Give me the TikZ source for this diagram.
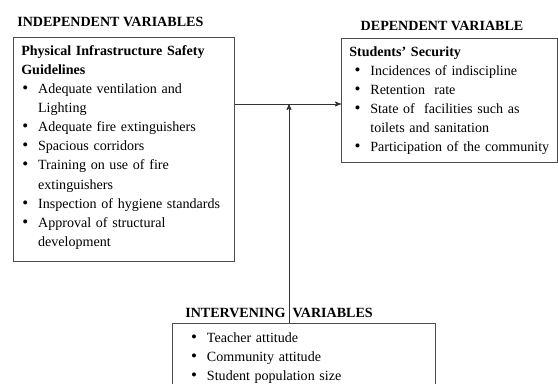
\documentclass[tikz,border=0pt]{standalone}
\usepackage{fontspec}
\setmainfont{Liberation Serif}
\usepackage{enumitem}
\setlist[itemize]{label={\fontsize{12}{12}\selectfont\textbullet},leftmargin=12pt,labelsep=7pt,itemsep=0pt,topsep=0pt,parsep=0pt,partopsep=0pt}
\usetikzlibrary{arrows,positioning}
\tikzset{>=stealth',
  varbox/.style={draw=black!70,line width=0.9pt,inner sep=0pt},
  boxtext/.style={anchor=north west,inner sep=0.2cm,font=\fontsize{10}{13.6}\selectfont},
  vartitle/.style={inner sep=0pt,font=\fontsize{10}{12}\selectfont\bfseries},
  link/.style={draw=black!80,line width=0.6pt}
}

\begin{document}
\begin{tikzpicture}
    \useasboundingbox (0,0) rectangle (13.95,9.575);
    \clip (0,0) rectangle (13.95,9.575);
    % the three boxes
    \node [varbox,anchor=north west,minimum width=5.525cm,minimum height=5.6cm] (indep) at (0.325,8.65) {};
    \node [varbox,anchor=north west,minimum width=5.4cm,minimum height=3.1cm] (dep) at (8.525,8.625) {};
    \node [varbox,anchor=north west,minimum width=6.575cm,minimum height=2.5cm] (interv) at (4.3,1.5) {};
    % texts in the boxes
    \node [boxtext,text width=5.1cm] (indeptext) at (indep.north west) {\noindent\textbf{Physical Infrastructure Safety\newline Guidelines}
      \begin{itemize}
        \item Adequate ventilation and\newline Lighting
        \item Adequate fire extinguishers
        \item Spacious corridors
        \item Training on use of fire\newline extinguishers
        \item Inspection of hygiene standards
        \item Approval of structural\newline development
      \end{itemize}};
    \node [boxtext,text width=5cm] (deptext) at (dep.north west) {\noindent\textbf{Students' Security}
      \begin{itemize}[leftmargin=15pt]
        \item Incidences of indiscipline
        \item Retention\ \ rate
        \item State of\ \ facilities such as\newline toilets and sanitation
        \item Participation of the community
      \end{itemize}};
    \node [boxtext,text width=6.1cm,yshift=0.2cm] (intervtext) at (interv.north west) {%
      \begin{itemize}[leftmargin=19pt]
        \item Teacher attitude
        \item Community attitude
        \item Student population size
      \end{itemize}};
    % titles
    \node [vartitle,anchor=base west] (indeptitle) at ([xshift=0.1cm,yshift=0.26cm]indep.north west) {INDEPENDENT VARIABLES};
    \node [vartitle,anchor=base] (deptitle) at ([xshift=-0.19cm,yshift=0.185cm]dep.north) {DEPENDENT VARIABLE};
    \node [vartitle,anchor=base west] (intervtitle) at ([xshift=0.325cm,yshift=0.135cm]interv.north west) {INTERVENING\ \ VARIABLES};
    % connectors
    \coordinate (join) at (7.225,6.975);
    \draw [link,->] (join -| indep.east) -- (join -| dep.west);
    \draw [link,->] (interv.north -| join) -- (join);
\end{tikzpicture}
\end{document}
